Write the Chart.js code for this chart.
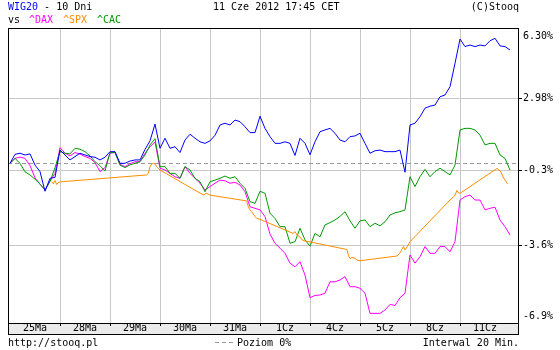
<!DOCTYPE html>
<html>
<head>
<meta charset="utf-8">
<title>WIG20 - 10 Dni</title>
<script src="https://cdn.jsdelivr.net/npm/chart.js@4.4.1/dist/chart.umd.min.js"></script>
<style>
  html, body { margin: 0; padding: 0; background: #fff; }
  canvas { display: block; }
</style>
</head>
<body>
<canvas id="chart" width="560" height="350"></canvas>
<script>
// --- Data: % change since the first quote, 10 samples per trading day ---
const dayLabels = ['25Ma', '28Ma', '29Ma', '30Ma', '31Ma', '1Cz', '4Cz', '5Cz', '8Cz', '11Cz'];
const yTickValues = [-6.82, -3.66, -0.31, 2.90, 5.68];
const yTickLabels = ['-6.9%', '-3.6%', '-0.3%', '2.98%', '6.30%'];

const wig20 = [
  0.00, 0.40, 0.45, 0.37, 0.42, -0.08, -0.37, -1.25, -0.67, -0.63,
  0.59, 0.37, 0.15, 0.30, 0.45, 0.37, 0.30, 0.27, 0.15, 0.27,
  0.52, 0.52, 0.00, 0.00, 0.10, 0.15, 0.15, 0.62, 1.00, 1.75,
  0.67, 1.12, 0.67, 0.74, 0.48, 1.04, 1.30, 1.12, 0.96, 0.89,
  1.00, 1.25, 1.71, 1.79, 1.71, 1.93, 1.86, 1.63, 1.37, 1.37,
  2.10, 1.56, 1.19, 0.89, 0.89, 0.96, 0.89, 0.35, 1.12, 0.89,
  0.38, 0.96, 1.41, 1.49, 1.56, 1.34, 1.04, 0.96, 1.19, 1.22,
  1.34, 0.89, 0.45, 0.56, 0.59, 0.52, 0.52, 0.52, 0.59, -0.40,
  1.71, 1.79, 2.08, 2.46, 2.55, 2.60, 2.97, 3.05, 3.42, 4.46,
  5.55, 5.21, 5.28, 5.21, 5.28, 5.24, 5.47, 5.58, 5.24, 5.21,
  5.06
];

const dax = [
  0.00, 0.22, 0.28, 0.22, -0.10, -0.65, -0.93, -1.19, -0.78, -0.45,
  0.70, 0.45, 0.33, 0.48, 0.41, 0.30, 0.22, 0.03, -0.37, -0.19,
  0.45, 0.48, -0.04, -0.15, -0.02, 0.07, 0.07, 0.45, 0.74, 0.95,
  -0.22, -0.30, -0.45, -0.60, -0.67, -0.15, -0.45, -0.67, -0.89, -1.19,
  -1.04, -0.89, -0.75, -0.78, -0.89, -0.85, -0.97, -1.27, -1.94, -2.01,
  -2.08, -2.38, -3.16, -3.57, -3.79, -4.02, -4.46, -4.62, -4.39, -4.99,
  -6.00, -5.90, -5.88, -5.80, -5.29, -5.29, -5.21, -5.06, -5.51, -5.51,
  -5.58, -5.80, -6.70, -6.70, -6.70, -6.55, -6.30, -6.35, -6.00, -5.80,
  -4.09, -4.46, -4.17, -3.72, -4.02, -4.02, -3.72, -3.72, -3.95, -3.50,
  -1.64, -1.49, -1.42, -1.64, -1.64, -2.08, -2.01, -1.96, -2.53, -2.83,
  -3.20
];

const cac = [
  0.00, 0.22, 0.00, -0.38, -0.52, -0.71, -0.93, -1.19, -0.82, -0.19,
  0.52, 0.45, 0.42, 0.67, 0.63, 0.52, 0.33, 0.07, -0.11, -0.34,
  0.48, 0.48, -0.08, -0.19, -0.07, 0.00, 0.07, 0.37, 0.82, 1.10,
  -0.15, -0.15, -0.45, -0.45, -0.67, -0.15, -0.30, -0.67, -0.82, -1.27,
  -0.82, -0.75, -0.67, -0.57, -0.67, -0.60, -0.89, -1.12, -1.71, -1.79,
  -1.25, -1.34, -2.23, -2.46, -2.83, -2.83, -3.57, -3.50, -2.90, -3.42,
  -3.70, -3.13, -3.28, -2.75, -2.65, -2.53, -2.37, -2.16, -2.57, -2.90,
  -2.57, -2.53, -2.83, -2.68, -2.79, -2.61, -2.31, -2.21, -2.16, -2.08,
  -0.60, -1.04, -0.60, -0.27, -0.60, -0.37, -0.22, -0.37, -0.52, -0.08,
  1.49, 1.56, 1.56, 1.49, 1.26, 0.82, 0.89, 0.89, 0.37, 0.22,
  -0.30
];

// S&P 500 only overlaps the end of each session, so it has its own time points (in days)
const spxDays = [
  0.834, 0.866, 0.90, 0.934, 0.966, 1.0,
  2.734, 2.766, 2.80, 2.834, 2.866, 2.90, 2.934, 2.966, 3.0,
  3.76, 3.82, 3.88, 3.92, 3.96, 4.0,
  4.734, 4.766, 4.80, 4.834, 4.90, 4.934, 5.0,
  5.66, 5.70, 5.74, 5.80, 5.84, 5.90, 6.0,
  6.74, 6.77, 6.80, 6.84, 6.90, 6.94, 7.0,
  7.74, 7.80, 7.84, 7.87, 7.90, 7.94, 8.0,
  8.80, 8.86, 8.90, 8.94, 8.97, 9.0,
  9.74, 9.78, 9.82, 9.86, 9.90, 9.95
];
const spx = [
  -0.82, -0.92, -0.77, -0.95, -0.86, -0.83,
  -0.52, -0.45, -0.15, -0.03, 0.00, -0.03, -0.15, -0.22, -0.30,
  -1.28, -1.35, -1.42, -1.33, -1.37, -1.42,
  -1.68, -1.94, -2.08, -2.16, -2.38, -2.46, -2.50,
  -3.13, -3.05, -3.20, -3.29, -3.42, -3.47, -3.51,
  -3.85, -4.12, -4.26, -4.20, -4.24, -4.32, -4.35,
  -4.14, -4.00, -3.83, -3.72, -3.87, -3.74, -3.50,
  -1.64, -1.53, -1.42, -1.21, -1.33, -1.34,
  -0.23, -0.30, -0.39, -0.61, -0.75, -0.92
];

// --- Styling ---
const STEPS_PER_DAY = 10;
const FONT = '"DejaVu Sans Mono", monospace';
const GRID = '#c8c8c8';
const BLUE = '#0000ff', MAGENTA = '#ff00ff', ORANGE = '#ff8c00', GREEN = '#009900';

Chart.defaults.font.family = FONT;
Chart.defaults.font.size = 10;
Chart.defaults.color = '#000';

function toPoints(values) {
  return values.map((v, i) => ({ x: i / STEPS_PER_DAY, y: v }));
}

function lineSet(label, data, color, order) {
  return {
    label: label,
    data: data,
    borderColor: color,
    borderWidth: 1,
    pointRadius: 0,
    fill: false,
    tension: 0,
    order: order
  };
}

// tick list for x: label ticks in the middle of each day, grid ticks on day boundaries
const xTickValues = dayLabels.flatMap((_, k) => k === 0 ? [0.5] : [k, k + 0.5]);

const isBoundary = v => Math.abs(v - Math.round(v)) < 1e-6;

// --- Frame, strip, zero line and captions (Stooq style) ---
const stooqPlugin = {
  id: 'stooqDecor',
  beforeDraw(chart) {
    const { ctx, chartArea: a } = chart;
    ctx.save();
    ctx.fillStyle = '#ebebeb';
    ctx.fillRect(a.left, a.bottom, a.right - a.left, 11);
    ctx.restore();
  },
  beforeDatasetsDraw(chart) {
    const { ctx, chartArea: a, scales } = chart;
    const y = Math.round(scales.y.getPixelForValue(0)) + 0.5;
    ctx.save();
    ctx.strokeStyle = '#999';
    ctx.lineWidth = 1;
    ctx.setLineDash([4, 3]);
    ctx.beginPath();
    ctx.moveTo(a.left, y);
    ctx.lineTo(a.right, y);
    ctx.stroke();
    ctx.restore();
  },
  afterDraw(chart) {
    const { ctx, chartArea: a, scales } = chart;
    const bottom = a.bottom + 11;
    ctx.save();
    ctx.strokeStyle = '#000';
    ctx.lineWidth = 1;
    ctx.beginPath();
    ctx.moveTo(a.left + 0.5, a.top + 0.5);
    ctx.lineTo(a.right + 0.5, a.top + 0.5);
    ctx.moveTo(a.left + 0.5, a.top);
    ctx.lineTo(a.left + 0.5, bottom + 0.5);
    ctx.moveTo(a.right + 0.5, a.bottom);
    ctx.lineTo(a.right + 0.5, bottom + 0.5);
    ctx.moveTo(a.left, bottom + 0.5);
    ctx.lineTo(a.right + 1, bottom + 0.5);
    // small marks on day boundaries inside the strip
    for (let k = 1; k < dayLabels.length; k++) {
      const x = Math.round(scales.x.getPixelForValue(k)) + 0.5;
      ctx.moveTo(x, a.bottom);
      ctx.lineTo(x, a.bottom + 3);
    }
    ctx.stroke();

    ctx.font = '10px ' + FONT;
    ctx.textBaseline = 'alphabetic';
    ctx.textAlign = 'left';

    // header row 1
    ctx.fillStyle = BLUE;
    ctx.fillText('WIG20', 8, 10);
    ctx.fillStyle = '#000';
    ctx.fillText(' - 10 Dni', 8 + ctx.measureText('WIG20').width, 10);
    ctx.fillText('11 Cze 2012 17:45 CET', 213, 10);
    ctx.textAlign = 'right';
    ctx.fillText('(C)Stooq', 519, 10);
    ctx.textAlign = 'left';

    // header row 2
    ctx.fillText('vs', 8, 23);
    ctx.fillStyle = MAGENTA;
    ctx.fillText('^DAX', 29, 23);
    ctx.fillStyle = ORANGE;
    ctx.fillText('^SPX', 63, 23);
    ctx.fillStyle = GREEN;
    ctx.fillText('^CAC', 97, 23);

    // footer
    ctx.fillStyle = '#000';
    ctx.fillText('http://stooq.pl', 8, 346);
    ctx.fillText('Poziom 0%', 237, 346);
    ctx.textAlign = 'right';
    ctx.fillText('Interwal 20 Min.', 519, 346);

    ctx.strokeStyle = '#999';
    ctx.setLineDash([4, 3]);
    ctx.beginPath();
    ctx.moveTo(215, 342.5);
    ctx.lineTo(235, 342.5);
    ctx.stroke();
    ctx.restore();
  }
};

const chart = new Chart(document.getElementById('chart').getContext('2d'), {
  type: 'line',
  data: {
    datasets: [
      lineSet('WIG20', toPoints(wig20), BLUE, 0),
      lineSet('^SPX', spxDays.map((d, i) => ({ x: d, y: spx[i] })), ORANGE, 1),
      lineSet('^CAC', toPoints(cac), GREEN, 2),
      lineSet('^DAX', toPoints(dax), MAGENTA, 3)
    ]
  },
  options: {
    responsive: false,
    animation: false,
    devicePixelRatio: 1,
    layout: { padding: { left: 8, right: 0, top: 28, bottom: 16 } },
    plugins: {
      legend: { display: false },
      tooltip: { enabled: false }
    },
    scales: {
      x: {
        type: 'linear',
        min: -0.04,
        max: 10.16,
        afterBuildTicks: scale => { scale.ticks = xTickValues.map(v => ({ value: v })); },
        afterFit: scale => { scale.height = 11; },
        ticks: {
          autoSkip: false,
          maxRotation: 0,
          padding: 0.5,
          font: { size: 10, lineHeight: 1 },
          callback: value => {
            const k = value - 0.5;
            return Number.isInteger(k) ? dayLabels[k] : '';
          }
        },
        grid: {
          drawTicks: false,
          lineWidth: 1,
          color: ctx => (ctx.tick && isBoundary(ctx.tick.value)) ? GRID : 'transparent'
        },
        border: { display: true, color: '#000' }
      },
      y: {
        type: 'linear',
        position: 'right',
        min: -7.13,
        max: 6.04,
        afterBuildTicks: scale => { scale.ticks = yTickValues.map(v => ({ value: v })); },
        afterFit: scale => { scale.width = 42; },
        ticks: {
          autoSkip: false,
          padding: 1,
          font: { size: 10 },
          callback: (value, index) => yTickLabels[index]
        },
        grid: {
          tickLength: 4,
          lineWidth: 1,
          color: ctx => (ctx.index === 0 || ctx.index === yTickValues.length - 1) ? 'transparent' : GRID,
          tickColor: ctx => (ctx.index === 0 || ctx.index === yTickValues.length - 1) ? 'transparent' : '#000'
        },
        border: { display: true, color: '#000' }
      }
    }
  },
  plugins: [stooqPlugin]
});
</script>
</body>
</html>
